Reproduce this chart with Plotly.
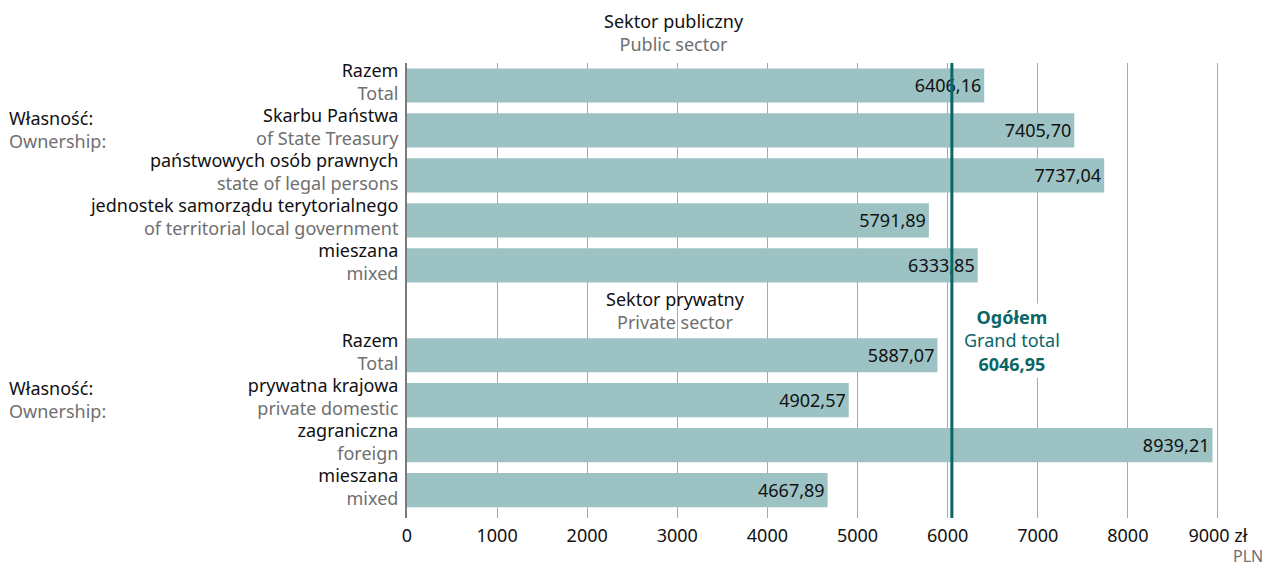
import plotly.graph_objects as go

# ---- data ----
public_pl = ["Razem", "Skarbu Państwa", "państwowych osób prawnych",
             "jednostek samorządu terytorialnego", "mieszana"]
public_en = ["Total", "of State Treasury", "state of legal persons",
             "of territorial local government", "mixed"]
public_vals = [6406.16, 7405.70, 7737.04, 5791.89, 6333.85]

private_pl = ["Razem", "prywatna krajowa", "zagraniczna", "mieszana"]
private_en = ["Total", "private domestic", "foreign", "mixed"]
private_vals = [5887.07, 4902.57, 8939.21, 4667.89]

grand_total = 6046.95
x_ticks = [0, 1000, 2000, 3000, 4000, 5000, 6000, 7000, 8000, 9000]
x_tick_labels = ["0", "1000", "2000", "3000", "4000", "5000", "6000", "7000", "8000", "9000 zł"]

# ---- styling ----
FONT = "Noto Sans"
BAR = "#9cc2c4"
TEAL = "#0b6667"
GRAY = "#6f6f6f"
FS = 18
OFF = 8  # page body margin offset
W, H = 1277, 564
ML, MT = 407 - OFF, 63 - OFF
PLOT_R, PLOT_B = 1263 - OFF, 518 - OFF
MR, MB = W - PLOT_R, H - PLOT_B
PW = W - ML - MR
PH = H - MT - MB

def px_x(px):  # page pixel -> paper x
    return (px - OFF - ML) / PW

def px_y(py):  # page pixel -> paper y
    return 1 - (py - OFF - MT) / PH

def fmt(v):
    return f"{v:.2f}".replace(".", ",")

pub_pos = list(range(len(public_vals)))
priv_pos = [len(public_vals) + 1 + i for i in range(len(private_vals))]
positions = pub_pos + priv_pos
values = public_vals + private_vals
labels = [f"{pl}<br><span style='color:{GRAY}'>{en}</span>"
          for pl, en in zip(public_pl + private_pl, public_en + private_en)]

fig = go.Figure()
fig.add_trace(go.Bar(
    x=values, y=positions, orientation="h",
    marker=dict(color=BAR, line=dict(width=0)),
    width=0.76,
    text=[fmt(v) for v in values],
    textposition="inside", insidetextanchor="end",
    textfont=dict(family=FONT, size=FS, color="#111111"),
    hoverinfo="skip",
))

fig.add_vline(x=grand_total, line=dict(color=TEAL, width=3), layer="above")

ann = []
ann.append(dict(x=2965, y=px_y(32), xref="x", yref="paper", yanchor="middle",
                text=f"Sektor publiczny<br><span style='color:{GRAY}'>Public sector</span>",
                showarrow=False, font=dict(family=FONT, size=FS, color="#111111")))
ann.append(dict(x=2985, y=len(public_vals), xref="x", yref="y", yanchor="middle",
                text=f"Sektor prywatny<br><span style='color:{GRAY}'>Private sector</span>",
                showarrow=False, font=dict(family=FONT, size=FS, color="#111111")))
for py in (129, 399):
    ann.append(dict(x=px_x(7), y=px_y(py), xref="paper", yref="paper",
                    xanchor="left", yanchor="middle",
                    text=f"Własność:<br><span style='color:{GRAY}'>Ownership:</span>",
                    align="left", showarrow=False,
                    font=dict(family=FONT, size=FS, color="#111111")))
ann.append(dict(x=6715, y=5.67, xref="x", yref="y", yanchor="middle",
                text=f"<b>Ogółem</b><br>Grand total<br><b>{fmt(grand_total)}</b>",
                showarrow=False, bgcolor="white",
                font=dict(family=FONT, size=FS, color=TEAL)))
ann.append(dict(x=px_x(1231), y=px_y(543), xref="paper", yref="paper", text="PLN",
                showarrow=False, xanchor="left", yanchor="top",
                font=dict(family=FONT, size=16, color=GRAY)))

fig.update_layout(
    width=W, height=H,
    margin=dict(l=ML, r=MR, t=MT, b=MB, autoexpand=False),
    paper_bgcolor="white", plot_bgcolor="white",
    showlegend=False,
    annotations=ann,
    font=dict(family=FONT, size=FS, color="#111111"),
    uniformtext=dict(minsize=FS, mode="show"),
)

fig.update_xaxes(range=[0, 9500], tickvals=x_ticks, ticktext=x_tick_labels,
                 showgrid=True, gridcolor="#a9a9a9", gridwidth=1,
                 zeroline=False, showline=False,
                 ticks="outside", ticklen=1, tickcolor="rgba(0,0,0,0)",
                 automargin=False,
                 tickfont=dict(family=FONT, size=FS, color="#111111"))
fig.update_yaxes(range=[9.62, -0.5], tickvals=positions, ticktext=labels,
                 showgrid=False, zeroline=False, automargin=False,
                 showline=True, linecolor="#7a7a7a", linewidth=2,
                 ticks="", ticklen=0, ticklabelstandoff=3, ticklabelshift=3,
                 tickfont=dict(family=FONT, size=FS, color="#111111"))

fig.write_html("out.html")
